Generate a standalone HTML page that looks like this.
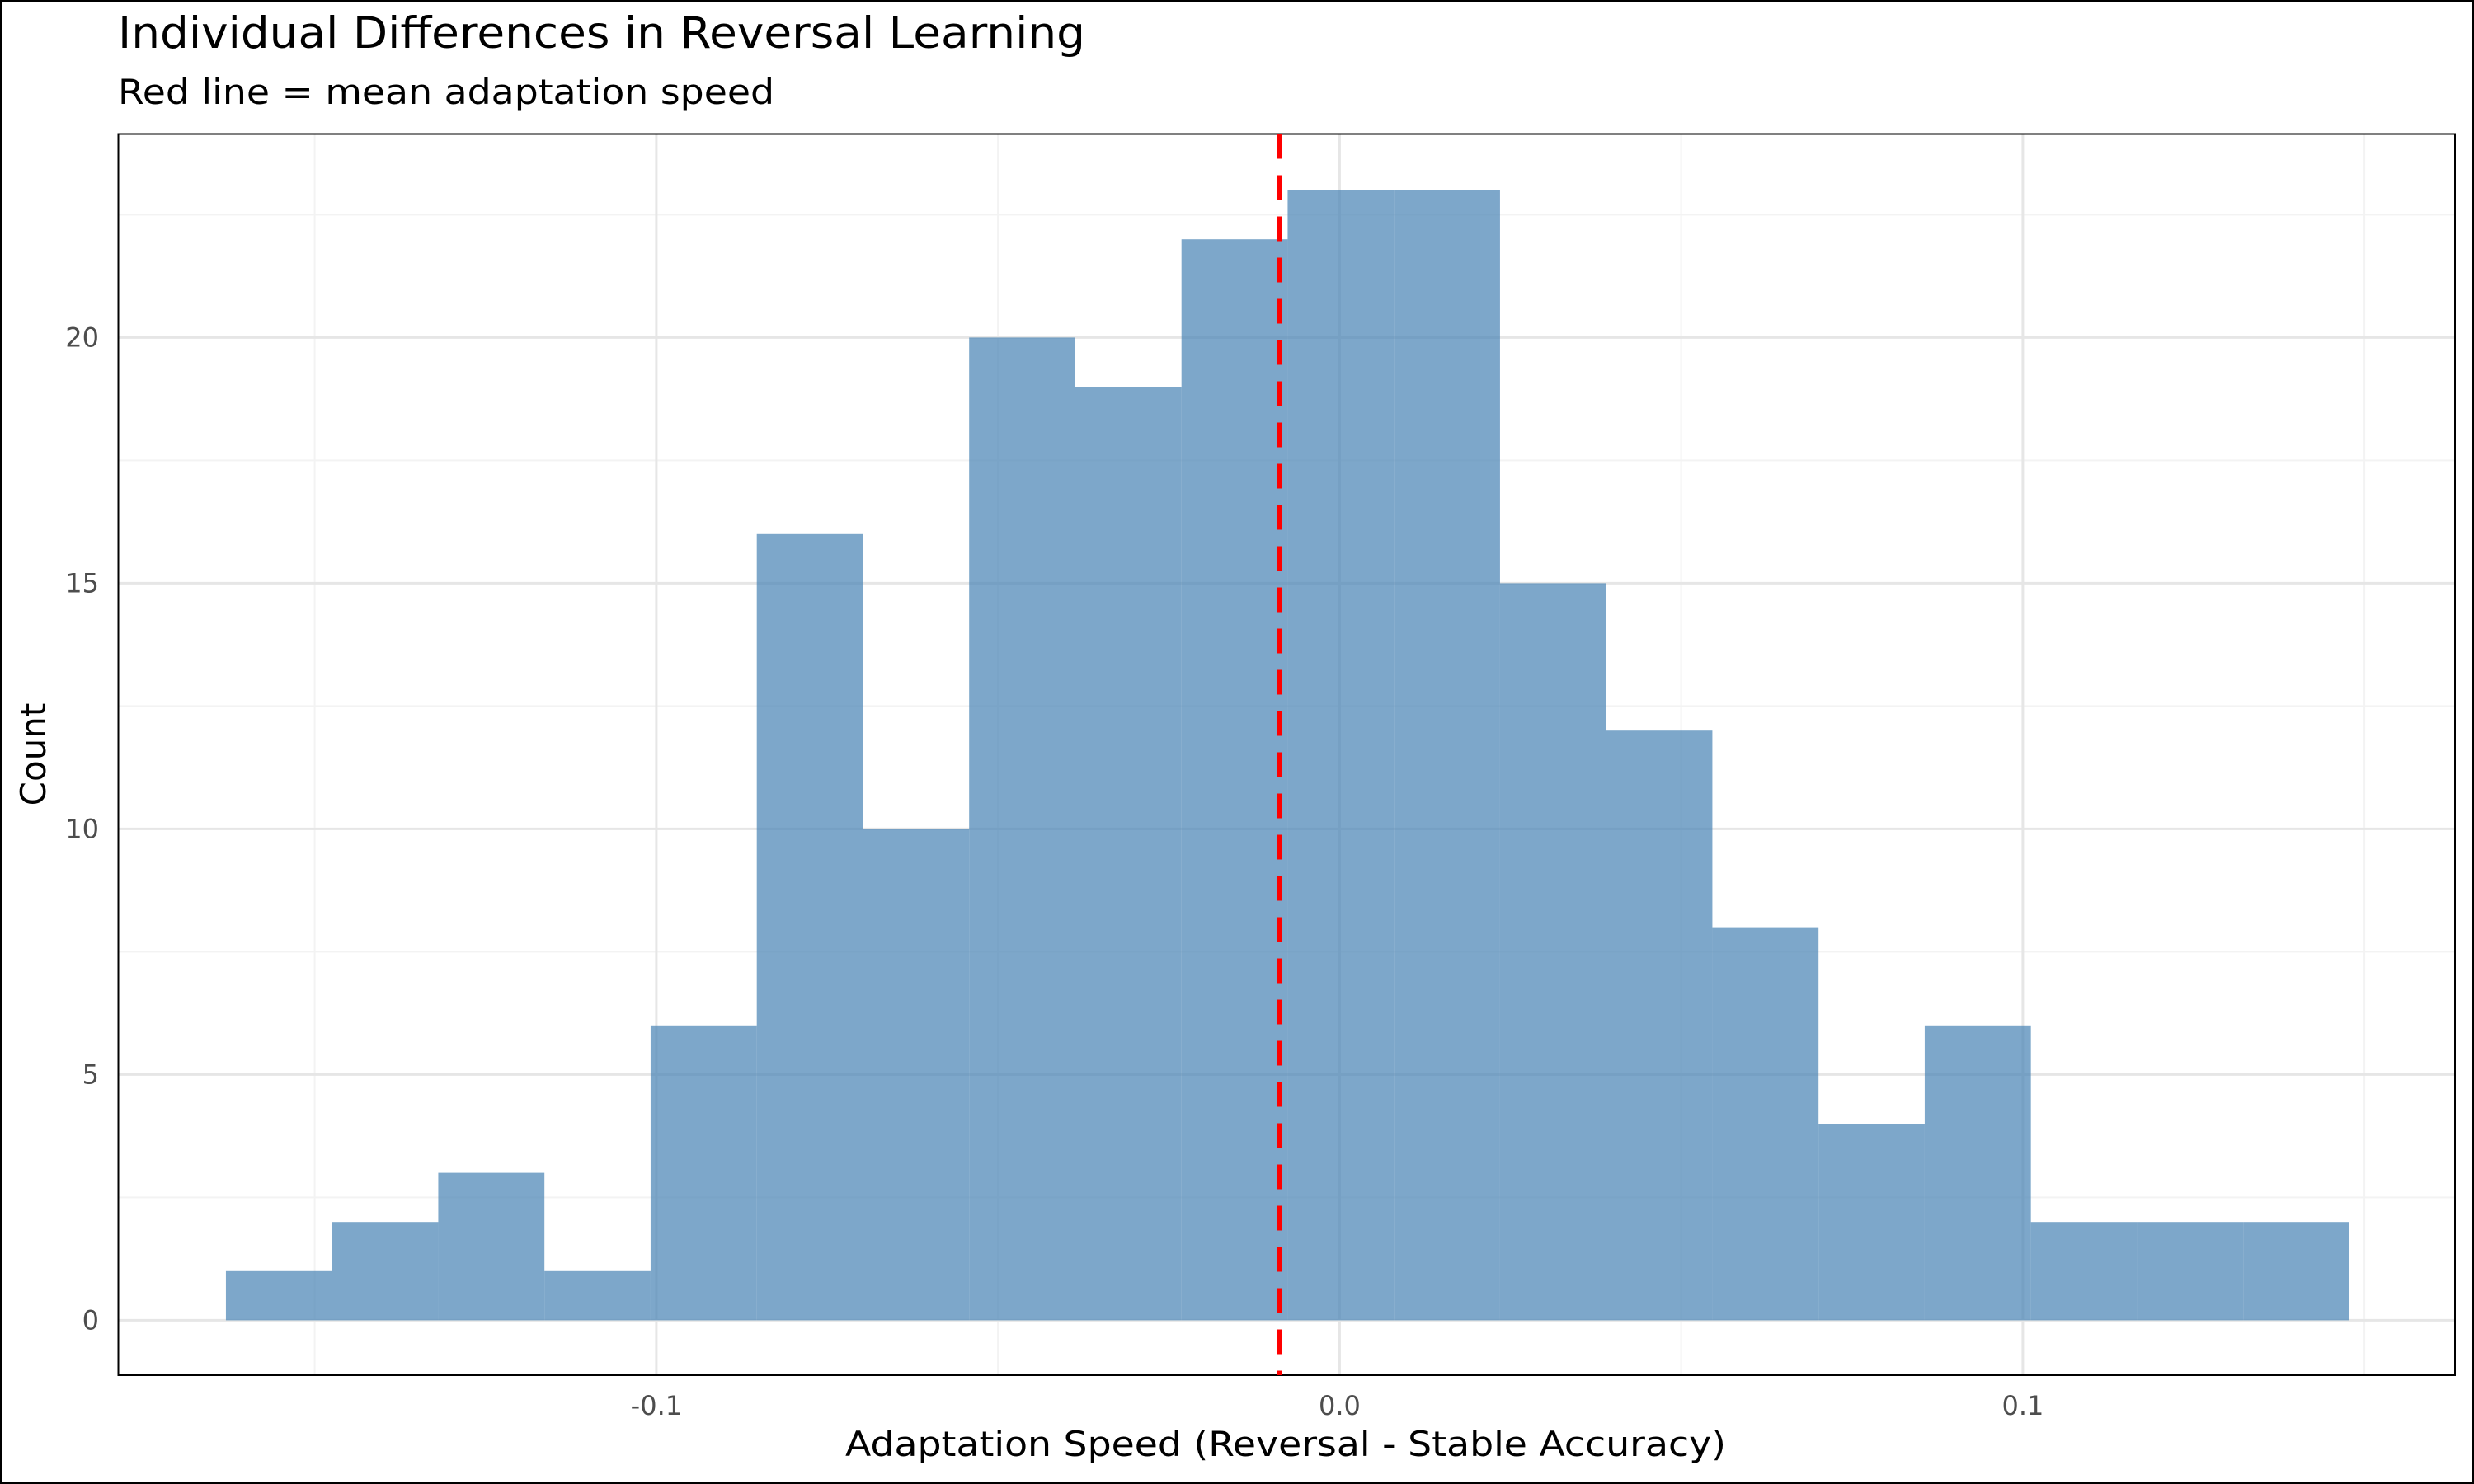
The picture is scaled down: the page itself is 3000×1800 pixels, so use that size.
<!DOCTYPE html>
<html><head><meta charset="utf-8"><style>
html,body{margin:0;padding:0;background:#fff}
svg{display:block;font-family:"DejaVu Sans","Liberation Sans",sans-serif}
</style></head><body>
<svg id="chart" width="3000" height="1800" viewBox="0 0 3000 1800" xmlns="http://www.w3.org/2000/svg">
<rect x="1" y="1" width="2998" height="1798" fill="#fff" stroke="#000" stroke-width="2"/>
<text x="143" y="58" font-size="53" fill="#000" textLength="1173" lengthAdjust="spacingAndGlyphs">Individual Differences in Reversal Learning</text>
<text x="143" y="126" font-size="42" fill="#000" textLength="796" lengthAdjust="spacingAndGlyphs">Red line = mean adaptation speed</text>
<g id="grid"></g>
<g id="bars"></g>
<g id="ticks"></g>
<rect x="143.5" y="162.5" width="2833.5" height="1505.5" fill="none" stroke="#000" stroke-width="2"/>
<text x="1559" y="1766" font-size="42" text-anchor="middle" fill="#000" textLength="1068" lengthAdjust="spacingAndGlyphs">Adaptation Speed (Reversal - Stable Accuracy)</text>
<text transform="translate(55,915) rotate(-90)" font-size="42" text-anchor="middle" fill="#000">Count</text>
</svg>
<script>
const counts = [1,2,3,1,6,16,10,20,19,22,23,23,15,12,8,4,6,2,2,2];
const binStart = -0.163;
const binWidth = 0.01554;
const meanValue = -0.00878;
const xTicks = [-0.1, 0.0, 0.1];
const xTickLabels = ["-0.1","0.0","0.1"];
const xMinor = [-0.15,-0.05,0.05,0.15];
const yTicks = [0,5,10,15,20];
const yMinor = [2.5,7.5,12.5,17.5,22.5];

const L=143.5,R=2977,T=162.5,B=1668;
const xs = v => 1624.4 + v*8285;
const ys = v => 1601.4 - v*59.6;
const NS="http://www.w3.org/2000/svg";
function mk(tag, attrs, parent){const e=document.createElementNS(NS,tag);for(const k in attrs)e.setAttribute(k,attrs[k]);parent.appendChild(e);return e;}
const grid=document.getElementById('grid'), bars=document.getElementById('bars'), ticks=document.getElementById('ticks'), svg=document.getElementById('chart');
yMinor.forEach(v=>{const e=mk('line',{x1:L,x2:R,y1:ys(v),y2:ys(v),stroke:'#f3f3f3','stroke-width':2},grid);

});
xMinor.forEach(v=>{const e=mk('line',{x1:xs(v),x2:xs(v),y1:T,y2:B,stroke:'#f3f3f3','stroke-width':2},grid);

});
yTicks.forEach(v=>{const e=mk('line',{x1:L,x2:R,y1:ys(v),y2:ys(v),stroke:'#e6e6e6','stroke-width':3},grid);


const t=mk('text',{x:120,y:ys(v)+11,'font-size':32,'text-anchor':'end',fill:'#4d4d4d'},ticks);t.textContent=v;

});
xTicks.forEach((v,i)=>{const e=mk('line',{x1:xs(v),x2:xs(v),y1:T,y2:B,stroke:'#e6e6e6','stroke-width':3},grid);


const t=mk('text',{x:xs(v),y:1716,'font-size':32,'text-anchor':'middle',fill:'#4d4d4d'},ticks);t.textContent=xTickLabels[i];

});
counts.forEach((c,i)=>{const x0=xs(binStart+i*binWidth),x1=xs(binStart+(i+1)*binWidth);
const e=mk('rect',{x:x0,y:ys(c),width:x1-x0,height:ys(0)-ys(c),fill:'#4682b4','fill-opacity':0.7},bars);

});
const m=mk('line',{x1:xs(meanValue),x2:xs(meanValue),y1:T,y2:B,stroke:'#ff0000','stroke-width':6,'stroke-dasharray':'30 20'},svg);


</script>
</body></html>
